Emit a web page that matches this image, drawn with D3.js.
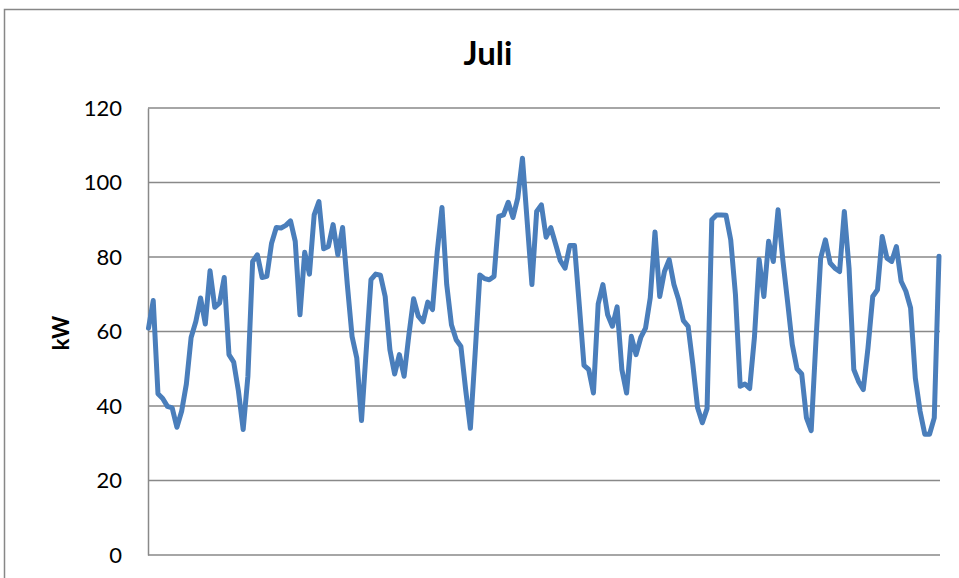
<!DOCTYPE html>
<html>
<head>
<meta charset="utf-8">
<script src="https://cdn.jsdelivr.net/npm/d3@7"></script>
<style>
  html, body { margin: 0; padding: 0; background: #fff; }
  svg { display: block; }
</style>
</head>
<body>
<svg id="chart" width="959" height="578"></svg>
<script>
const title = "Juli";
const yLabel = "kW";
const yTicks = [0, 20, 40, 60, 80, 100, 120];
const values = [
  60.9, 68.3, 43.3, 42.0, 39.9, 39.5, 34.3, 38.6, 45.9, 58.4,
  62.7, 69.0, 62.0, 76.3, 66.5, 67.6, 74.5, 53.8, 51.8, 44.0,
  33.7, 48.0, 78.8, 80.6, 74.5, 74.8, 83.7, 87.9, 87.8, 88.5,
  89.7, 84.2, 64.5, 81.3, 75.4, 91.3, 94.9, 82.2, 82.8, 88.7,
  80.6, 87.9, 72.6, 58.7, 52.9, 36.1, 55.0, 73.9, 75.4, 75.1,
  69.4, 55.1, 48.6, 53.8, 48.0, 59.0, 68.8, 64.1, 62.6, 67.9,
  65.9, 81.5, 93.3, 72.6, 61.8, 57.8, 56.0, 44.4, 34.0, 54.0,
  75.2, 74.2, 73.9, 74.8, 90.9, 91.3, 94.7, 90.6, 95.8, 106.5,
  89.5, 72.6, 92.2, 94.0, 85.3, 87.9, 83.5, 79.0, 77.0, 83.1,
  83.1, 67.2, 50.9, 49.8, 43.5, 67.4, 72.6, 64.5, 61.4, 66.6,
  49.8, 43.5, 58.7, 53.8, 58.4, 60.9, 69.0, 86.7, 69.4, 76.1,
  79.3, 72.6, 68.5, 62.9, 61.4, 51.1, 39.5, 35.5, 39.3, 90.0,
  91.3, 91.3, 91.2, 84.6, 69.9, 45.3, 45.9, 44.7, 58.3, 79.3,
  69.4, 84.2, 78.8, 92.7, 79.3, 68.1, 56.5, 50.0, 48.6, 36.8,
  33.4, 57.4, 79.7, 84.6, 78.4, 77.0, 76.1, 92.2, 77.0, 49.8,
  46.6, 44.4, 55.6, 69.4, 71.2, 85.5, 79.7, 78.8, 82.8, 73.5,
  70.8, 66.3, 47.5, 38.6, 32.4, 32.4, 36.8, 80.2
];

const svg = d3.select("#chart");
const plot = { left: 148, right: 940, top: 108, bottom: 555 };
const font = "Lato, 'Open Sans', sans-serif";

// outer chart border (extends past the window)
svg.append("rect")
  .attr("x", 4.5).attr("y", 9.5)
  .attr("width", 1000).attr("height", 700)
  .attr("fill", "none").attr("stroke", "#878787").attr("stroke-width", 1.5);

const x = d3.scaleLinear().domain([0, values.length - 1]).range([plot.left + 0.5, plot.right - 1]);
const y = d3.scaleLinear().domain([0, 120]).range([plot.bottom, plot.top]);

// gridlines
svg.append("g").selectAll("line").data(yTicks).join("line")
  .attr("x1", plot.left).attr("x2", plot.right)
  .attr("y1", d => y(d)).attr("y2", d => y(d))
  .attr("stroke", "#898989").attr("stroke-width", 1.5);

// y axis
const yAxis = svg.append("g")
  .attr("transform", `translate(${plot.left},0)`)
  .call(d3.axisLeft(y).tickValues(yTicks).tickSize(0).tickPadding(26));
yAxis.select(".domain").attr("stroke", "#898989").attr("stroke-width", 1.5);
yAxis.selectAll("text")
  .attr("font-family", font).attr("font-size", 22).attr("fill", "#000");

// line
svg.append("path")
  .datum(values)
  .attr("fill", "none")
  .attr("stroke", "#4A7EBB")
  .attr("stroke-width", 5)
  .attr("stroke-linejoin", "round")
  .attr("stroke-linecap", "round")
  .attr("d", d3.line().x((d, i) => x(i)).y(d => y(d)));

// title
svg.append("text")
  .attr("x", 488).attr("y", 65)
  .attr("text-anchor", "middle")
  .attr("font-family", font).attr("font-weight", "bold").attr("font-size", 33)
  .text(title);

// y label
svg.append("text")
  .attr("transform", "translate(69,333) rotate(-90)")
  .attr("text-anchor", "middle")
  .attr("font-family", font).attr("font-weight", "bold").attr("font-size", 22)
  .text(yLabel);
</script>
</body>
</html>
